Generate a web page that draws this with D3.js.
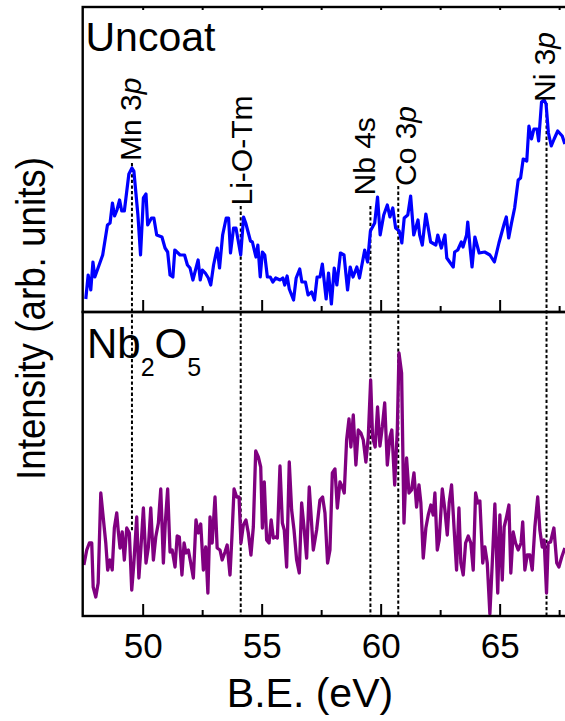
<!DOCTYPE html>
<html>
<head>
<meta charset="utf-8">
<script src="https://cdn.jsdelivr.net/npm/d3@7"></script>
<style>
  body { margin: 0; background: #fff; }
  svg { display: block; }
  text { font-family: "Liberation Sans", Arial, sans-serif; fill: #000; }
</style>
</head>
<body>
<svg id="chart" width="565" height="721"></svg>
<script>
// Valence-band XPS spectra, uncoated vs Nb2O5-coated (binding energy in eV, intensity in a.u.)
const uncoatEnergy = [47.61,47.71,47.82,47.91,47.99,48.32,48.52,48.63,48.73,48.82,48.92,49.03,49.12,49.23,49.42,49.55,49.63,49.80,49.91,50.03,50.14,50.21,50.37,50.47,50.59,50.81,50.94,51.05,51.15,51.27,51.35,51.57,51.76,51.88,51.99,52.11,52.33,52.42,52.51,52.63,52.76,52.86,52.98,53.13,53.23,53.36,53.51,53.61,53.69,53.82,53.92,54.12,54.24,54.33,54.53,54.61,54.76,54.84,54.94,55.03,55.13,55.24,55.36,55.47,55.59,55.77,55.89,55.97,56.07,56.16,56.34,56.45,56.60,56.69,56.84,56.95,57.10,57.22,57.33,57.45,57.55,57.71,57.81,57.93,58.05,58.16,58.31,58.46,58.61,58.72,58.84,59.00,59.11,59.33,59.45,59.57,59.75,59.87,59.98,60.13,60.28,60.39,60.51,60.63,60.78,60.89,60.99,61.14,61.26,61.39,61.57,61.64,61.75,61.90,62.10,62.32,62.40,62.55,62.70,62.78,62.93,63.05,63.11,63.24,63.39,63.46,63.61,63.66,63.76,63.84,63.96,64.14,64.37,64.59,64.78,64.97,65.20,65.28,65.38,65.50,65.63,65.78,65.88,65.99,66.14,66.23,66.34,66.44,66.57,66.64,66.76,66.87,66.95,67.05,67.17,67.29,67.44,67.63,67.74];
const uncoatIntensity = [13,37,22,50,35,57,87,89,109,96,102,112,101,101,138,144,141,97,57,114,118,87,94,94,77,75,64,60,37,35,62,57,57,47,44,32,52,32,42,39,34,27,47,64,44,77,94,94,59,84,84,57,95,89,71,70,55,67,35,60,57,35,35,30,34,32,34,27,36,23,12,34,43,30,30,17,20,12,35,35,48,13,39,8,44,27,59,57,22,45,35,45,34,62,50,81,89,115,77,97,107,95,104,84,81,69,94,97,116,77,92,77,67,98,70,67,77,64,77,54,49,45,60,62,70,65,77,90,64,45,75,59,60,57,50,69,89,95,74,89,104,132,134,153,151,186,173,183,183,171,210,212,208,179,166,173,181,176,168];

const coatedEnergy = [47.53,47.65,47.76,47.86,47.92,48.03,48.13,48.24,48.34,48.45,48.53,48.63,48.72,48.81,48.91,48.97,49.05,49.14,49.23,49.33,49.44,49.54,49.63,49.75,49.84,49.93,50.03,50.14,50.24,50.34,50.45,50.55,50.66,50.76,50.87,50.95,51.05,51.15,51.24,51.36,51.45,51.54,51.65,51.74,51.82,51.92,52.02,52.13,52.24,52.34,52.44,52.55,52.65,52.74,52.83,52.92,53.04,53.13,53.25,53.34,53.46,53.55,53.67,53.75,53.84,53.95,54.05,54.13,54.23,54.34,54.44,54.55,54.65,54.75,54.86,54.96,55.03,55.11,55.21,55.31,55.40,55.49,55.59,55.66,55.77,55.87,55.95,56.05,56.16,56.26,56.36,56.47,56.58,56.68,56.79,56.89,57.00,57.17,57.31,57.45,57.56,57.66,57.77,57.87,57.97,58.08,58.18,58.29,58.39,58.47,58.57,58.67,58.75,58.85,58.96,59.06,59.17,59.27,59.38,59.48,59.58,59.66,59.77,59.87,59.97,60.07,60.17,60.28,60.39,60.47,60.59,60.70,60.77,60.88,60.98,61.09,61.19,61.30,61.40,61.51,61.61,61.69,61.79,61.90,62.00,62.11,62.21,62.28,62.38,62.46,62.59,62.70,62.80,62.88,62.98,63.09,63.19,63.29,63.37,63.47,63.57,63.68,63.79,63.89,63.99,64.08,64.17,64.29,64.38,64.48,64.59,64.69,64.80,64.92,65.01,65.11,65.19,65.29,65.39,65.47,65.57,65.67,65.78,65.90,65.97,66.06,66.16,66.27,66.37,66.48,66.60,66.69,66.79,66.87,66.97,67.04,67.14,67.28,67.40,67.49,67.61,67.74];
const coatedIntensity = [51,66,73,73,29,19,33,123,99,73,46,56,46,88,103,86,68,84,56,88,83,26,53,99,38,69,108,53,69,108,56,79,93,127,53,93,127,64,66,49,80,79,41,73,63,66,53,38,96,83,92,46,69,23,99,73,119,68,66,56,64,71,41,79,127,119,119,73,91,96,83,61,89,165,159,149,88,134,76,73,96,78,79,78,150,93,86,49,154,106,86,56,43,113,86,58,129,66,86,116,119,103,53,66,143,147,108,134,129,123,176,197,169,201,151,186,183,176,154,179,236,179,169,209,170,189,213,151,179,186,131,186,263,243,93,158,123,126,143,109,131,113,58,88,101,111,101,123,66,76,127,106,81,113,131,86,46,108,53,41,73,80,73,46,123,113,115,53,69,53,2,53,112,23,101,36,89,99,111,43,84,73,66,73,94,46,61,61,46,89,119,86,69,76,23,73,74,88,53,49,59,68];

const majorTicks = [50, 55, 60, 65];
const minorTicks = [52.5, 57.5, 62.5, 67.5];

// Core-level reference energies
const peakLabels = ["Mn 3p", "Li-O-Tm", "Nb 4s", "Co 3p", "Ni 3p"];
const peakEnergies = [49.55, 54.12, 59.57, 60.74, 66.97];

// ---- layout ----
const plotLeft = 82.7, plotRight = 567.7, plotTop = 7, plotMid = 312, plotBottom = 616;
const svg = d3.select("#chart");

const x = d3.scaleLinear().domain([47.48, 67.86]).range([plotLeft, plotRight]);
const yTop = d3.scaleLinear().domain([0, 305]).range([plotMid, plotTop]);
const yBot = d3.scaleLinear().domain([0, 304]).range([plotBottom, plotMid]);

// peak annotation geometry: label start / dashed-line span (upper-panel units), label offset
const peakLayout = [
  { dx: 9.5,  labelAt: 151,   lineTop: 149, lineBottom: 85 },
  { dx: 11,   labelAt: 106.5, lineTop: 106, lineBottom: 0 },
  { dx: 4.5,  labelAt: 116.5, lineTop: 106, lineBottom: 0 },
  { dx: 18.2, labelAt: 126,   lineTop: 126, lineBottom: 0 },
  { dx: 8.6,  labelAt: 210,   lineTop: 209, lineBottom: 0 }
];

// ---- reference lines ----
const refG = svg.append("g");
peakEnergies.forEach((ev, i) => {
  const p = peakLayout[i];
  refG.append("line")
    .attr("x1", x(ev)).attr("x2", x(ev))
    .attr("y1", yTop(p.lineTop)).attr("y2", yBot(p.lineBottom))
    .attr("stroke", "#000").attr("stroke-width", 2)
    .attr("stroke-dasharray", "3.3,2.3");
});

// ---- spectra ----
const topData = uncoatEnergy.map((e, i) => [e, uncoatIntensity[i]]);
const botData = coatedEnergy.map((e, i) => [e, coatedIntensity[i]]);

svg.append("path").datum(topData)
  .attr("fill", "none").attr("stroke", "#0000ff").attr("stroke-width", 3.2)
  .attr("stroke-linejoin", "round")
  .attr("d", d3.line().x(d => x(d[0])).y(d => yTop(d[1])));

svg.append("path").datum(botData)
  .attr("fill", "none").attr("stroke", "#800080").attr("stroke-width", 3.3)
  .attr("stroke-linejoin", "round")
  .attr("d", d3.line().x(d => x(d[0])).y(d => yBot(d[1])));

// ---- axes & frames ----
function tickAxis(gen, ty, values, size, fmt) {
  const g = svg.append("g").attr("transform", `translate(0,${ty})`)
    .call(gen(x).tickValues(values).tickSize(size).tickFormat(fmt || ""));
  g.select(".domain").remove();
  g.selectAll(".tick line").attr("stroke", "#000").attr("stroke-width", 2);
  return g;
}
// upper panel
tickAxis(d3.axisBottom, plotMid, majorTicks, -12);
tickAxis(d3.axisBottom, plotMid, minorTicks, -6);
tickAxis(d3.axisTop, plotTop, majorTicks.concat(minorTicks), -3);
// lower panel
const xAxis = tickAxis(d3.axisBottom, plotBottom, majorTicks, -12, d3.format("d"));
xAxis.selectAll(".tick text")
  .attr("y", 17).attr("font-size", 35)
  .style("font-family", "'Liberation Sans', Arial, sans-serif");
tickAxis(d3.axisBottom, plotBottom, minorTicks, -6);

[[plotTop, plotMid], [plotMid, plotBottom]].forEach(([a, b]) => {
  svg.append("rect")
    .attr("x", plotLeft).attr("y", a).attr("width", plotRight - plotLeft).attr("height", b - a)
    .attr("fill", "none").attr("stroke", "#000").attr("stroke-width", 2.4);
});

// ---- peak labels ----
peakEnergies.forEach((ev, i) => {
  const p = peakLayout[i];
  const t = svg.append("text")
    .attr("transform", `translate(${x(ev) + p.dx},${yTop(p.labelAt)}) rotate(-90)`)
    .attr("font-size", 30);
  const name = peakLabels[i];
  if (name.endsWith("p")) {
    t.append("tspan").text(name.slice(0, -1));
    t.append("tspan").attr("font-style", "italic").text("p");
  } else {
    t.text(name);
  }
});

// ---- panel titles ----
svg.append("text").attr("x", 85.5).attr("y", 51).attr("font-size", 41).text("Uncoat");

const nb = svg.append("text").attr("x", 87).attr("y", 358).attr("font-size", 42);
nb.append("tspan").text("Nb");
nb.append("tspan").attr("font-size", 25).attr("dy", 18).text("2");
nb.append("tspan").attr("dy", -18).text("O");
nb.append("tspan").attr("font-size", 25).attr("dy", 18).text("5");

// ---- axis titles ----
svg.append("text")
  .attr("transform", "translate(45,318.5) rotate(-90)")
  .attr("text-anchor", "middle").attr("font-size", 40)
  .attr("textLength", 323).attr("lengthAdjust", "spacingAndGlyphs")
  .text("Intensity (arb. units)");

svg.append("text")
  .attr("x", 310).attr("y", 706.5)
  .attr("text-anchor", "middle").attr("font-size", 41)
  .text("B.E. (eV)");
</script>
</body>
</html>
